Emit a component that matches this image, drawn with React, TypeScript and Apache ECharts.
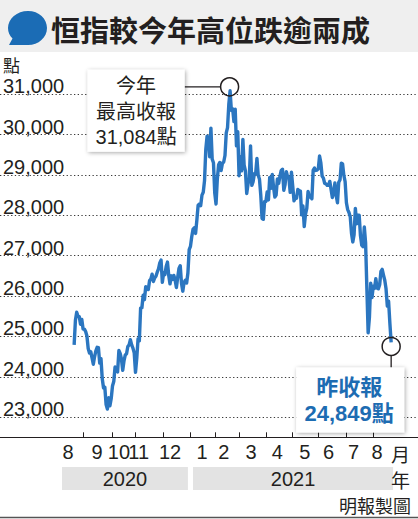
import React, { useEffect, useRef } from 'react';
import * as echarts from 'echarts';

// Hang Seng Index daily closes, 20 Aug 2020 – 20 Aug 2021 (trading-day order)
const aug2020 = [24790, 25400, 25600, 25500, 25490, 25300, 25420, 25180];
const sep2020 = [25180, 25120, 25010, 24700, 24590, 24620, 24470, 24310, 24500, 24640, 24730, 24720, 24340, 24450, 23950, 23720, 23740, 23310, 23200, 23480, 23280, 23460];
const oct2020 = [23770, 23880, 24240, 24190, 24120, 24650, 24580, 24440, 24160, 24390, 24540, 24570, 24750, 24790, 24920, 24790, 24710, 24590, 24110];
const nov2020 = [24460, 24940, 24890, 25700, 25710, 26020, 25910, 26230, 26170, 26160, 26380, 26420, 26540, 26360, 26450, 26490, 26590, 26670, 26820, 26890, 26340];
const dec2020 = [26570, 26530, 26730, 26840, 26510, 26300, 26500, 26410, 26510, 26390, 26210, 26460, 26680, 26750, 26310, 26120, 26340, 26390, 26320, 26570, 27150, 27230];
const jan2021 = [27470, 27650, 27690, 27550, 27880, 28250, 28280, 28240, 28500, 28570, 28860, 29640, 29960, 29930, 29450, 30160, 29390, 29300, 28550, 28280];
const feb2021 = [28890, 29250, 29310, 29110, 29290, 29320, 29480, 30040, 30170, 30750, 31084, 30600, 30640, 30320, 30630, 29720, 30070, 28980];
const mar2021 = [29450, 29100, 29880, 29240, 29100, 28540, 28770, 28910, 29720, 28740, 28830, 29030, 29030, 29410, 28990, 28890, 28500, 27920, 27900, 28340, 28340, 28580, 28380];
const apr2021 = [28940, 28670, 29010, 28700, 28450, 28500, 28900, 28790, 28970, 29110, 29140, 28620, 28760, 29080, 28950, 28940, 28570, 29070, 28720];
const may2021 = [28360, 28420, 28420, 28640, 28610, 28600, 28010, 28230, 27720, 28030, 28170, 28590, 28450, 28460, 28410, 29120, 29170, 29110, 29120, 29150];
const jun2021 = [29470, 29300, 28970, 28920, 28790, 28780, 28740, 28740, 28840, 28640, 28440, 28560, 28800, 28490, 28310, 28820, 28880, 29290, 29270, 28990, 28830];
const jul2021 = [28310, 28140, 28070, 27960, 27550, 27340, 27520, 28170, 27790, 28000, 28000, 27490, 27260, 27220, 27710, 27320, 26190, 25090, 25470, 26320, 25960];
const aug2021 = [26240, 26190, 26430, 26200, 26180, 26280, 26610, 26660, 26520, 26390, 26180, 25750, 25870, 25320, 24849];

const hsi = [
  ...aug2020, ...sep2020, ...oct2020, ...nov2020, ...dec2020, ...jan2021,
  ...feb2021, ...mar2021, ...apr2021, ...may2021, ...jun2021, ...jul2021, ...aug2021,
];

// x axis (trading-day index) month labels and month-boundary ticks
const monthLabels = ['8', '9', '10', '11', '12', '1', '2', '3', '4', '5', '6', '7', '8'];
const monthLabelPos = [-4.7, 18, 35, 50.5, 75, 100, 117, 138.5, 159, 180.5, 199, 218.5, 237];
const monthTickPos = [7.5, 30, 48, 69.5, 90.5, 110, 129, 150, 170.5, 191, 212.5, 234];
const yearLabels = ['2020', '2021'];
const yearSpans = [[-9.5, 89], [93, 249.5]];

const title = '恒指較今年高位跌逾兩成';
const unitLabel = '點';
const peakLines = ['今年', '最高收報', '31,084點'];
const lastLines = ['昨收報', '24,849點'];
const monthUnit = '月';
const yearUnit = '年';
const source = '明報製圖';

const NUM_FONT = "'Liberation Sans', Arial, 'Noto Sans CJK TC', sans-serif";
const CJK_FONT = "'Noto Sans CJK TC', 'Noto Sans CJK SC', sans-serif";
const INK = '#231f20';
const BLUE = '#2b76c0';
const DARK_BLUE = '#1d6cb2';

let shapeRegistered = false;
function registerBubble() {
  if (shapeRegistered) return;
  echarts.graphic.registerShape(
    'titleBubble',
    echarts.graphic.extendPath(
      'M20 0 C31 0 39 7.8 39 17 C39 26.6 30.5 34 20 34 L1 34 L4.5 27.5 C1.6 24.5 0 21 0 17 C0 7.8 9 0 20 0 Z',
      {}
    )
  );
  shapeRegistered = true;
}

export default function App() {
  const ref = useRef<HTMLDivElement>(null);

  useEffect(() => {
    if (!ref.current) return;
    registerBubble();
    const chart = echarts.init(ref.current, null, { renderer: 'svg' });

    const fmt = (v: number) => Number(v).toLocaleString('en-US');

    chart.setOption({
      animation: false,
      backgroundColor: '#ffffff',
      grid: { left: 0, right: 0, top: 74, height: 363.3, containLabel: false },
      xAxis: {
        type: 'value',
        min: -58,
        max: 269,
        axisLine: { show: true, lineStyle: { color: INK, width: 1.2 } },
        axisTick: {
          show: true,
          inside: true,
          length: 5,
          customValues: monthTickPos,
          lineStyle: { color: INK, width: 1 },
        },
        axisLabel: {
          customValues: monthLabelPos,
          formatter: (v: number) => {
            const i = monthLabelPos.indexOf(v);
            return i >= 0 ? monthLabels[i] : '';
          },
          margin: 5,
          fontSize: 20,
          color: INK,
          fontFamily: NUM_FONT,
        },
        splitLine: { show: false },
      },
      yAxis: {
        type: 'value',
        min: 22500,
        max: 31500,
        splitNumber: 9,
        axisLine: { show: false },
        axisTick: { show: false },
        axisLabel: {
          inside: true,
          showMinLabel: false,
          showMaxLabel: false,
          formatter: fmt,
          verticalAlign: 'bottom',
          lineHeight: 16,
          margin: 3,
          fontSize: 20,
          color: INK,
          fontFamily: NUM_FONT,
        },
        splitLine: {
          show: true,
          showMinLine: false,
          showMaxLine: false,
          lineStyle: { type: [1.3, 2.4], color: '#3a3a3a', width: 1 },
        },
      },
      series: [
        {
          type: 'line',
          data: hsi.map((v, i) => [i, v]),
          showSymbol: false,
          symbol: 'none',
          lineStyle: { color: BLUE, width: 3.4, join: 'round' },
          z: 3,
        },
      ],
    });

    let peakIdx = 0;
    hsi.forEach((v, i) => { if (v > hsi[peakIdx]) peakIdx = i; });
    const lastIdx = hsi.length - 1;
    const pk = chart.convertToPixel({ gridIndex: 0 }, [peakIdx, hsi[peakIdx]]) as number[];
    const ls = chart.convertToPixel({ gridIndex: 0 }, [lastIdx, hsi[lastIdx]]) as number[];
    const yr = yearSpans.map(([a, b]) => [
      (chart.convertToPixel({ gridIndex: 0 }, [a, 25000]) as number[])[0],
      (chart.convertToPixel({ gridIndex: 0 }, [b, 25000]) as number[])[0],
    ]);

    const R = 9;
    const pcx = pk[0] - 0.5;
    const pcy = pk[1] - 4;
    const topBox = { x: pcx - 142, y: pcy - 17, w: 97, h: 82 };
    const lcx = ls[0];
    const lcy = ls[1] + 4;
    const botBox = { x: lcx - 95, y: lcy + 21, w: 108, h: 65 };

    const shadow = {
      shadowBlur: 4,
      shadowColor: 'rgba(0,0,0,0.35)',
      shadowOffsetX: 1,
      shadowOffsetY: 1,
    };

    const elements: any[] = [
      { type: 'rect', z: 100, shape: { x: 0, y: 0, width: 418, height: 52 }, style: { fill: '#efefef' } },
      { type: 'titleBubble', z: 101, x: 8, y: 11, style: { fill: '#1b6cb5' } },
      {
        type: 'text', z: 101, x: 51, y: 29,
        style: { text: title, fill: INK, fontSize: 29, fontWeight: 'bold', fontFamily: CJK_FONT, align: 'left', verticalAlign: 'middle' },
      },
      {
        type: 'text', z: 101, x: 3, y: 64,
        style: { text: unitLabel, fill: INK, fontSize: 17, fontFamily: CJK_FONT, align: 'left', verticalAlign: 'middle' },
      },
      // peak annotation
      { type: 'line', z: 100, shape: { x1: topBox.x + topBox.w, y1: pcy, x2: pcx - R, y2: pcy }, style: { stroke: INK, lineWidth: 1.3 } },
      { type: 'circle', z: 102, shape: { cx: pcx, cy: pcy, r: R }, style: { fill: 'none', stroke: INK, lineWidth: 1.5 } },
      { type: 'rect', z: 100, shape: { x: topBox.x, y: topBox.y, width: topBox.w, height: topBox.h }, style: { fill: '#ffffff', ...shadow } },
      {
        type: 'text', z: 101, x: topBox.x + topBox.w / 2, y: topBox.y + topBox.h / 2 + 1,
        style: {
          text: peakLines.join('\n'), fill: INK, fontSize: 20, lineHeight: 25.5,
          fontFamily: NUM_FONT, align: 'center', verticalAlign: 'middle',
        },
      },
      // last close annotation
      { type: 'line', z: 100, shape: { x1: lcx, y1: lcy + R, x2: lcx, y2: botBox.y }, style: { stroke: INK, lineWidth: 1.3 } },
      { type: 'circle', z: 102, shape: { cx: lcx, cy: lcy, r: R }, style: { fill: 'none', stroke: INK, lineWidth: 1.5 } },
      { type: 'rect', z: 100, shape: { x: botBox.x, y: botBox.y, width: botBox.w, height: botBox.h }, style: { fill: '#ffffff', ...shadow } },
      {
        type: 'text', z: 101, x: botBox.x + botBox.w / 2 - 1, y: botBox.y + botBox.h / 2 + 1,
        style: {
          text: lastLines.join('\n'), fill: DARK_BLUE, fontSize: 22, lineHeight: 26, fontWeight: 'bold',
          fontFamily: NUM_FONT, align: 'center', verticalAlign: 'middle',
        },
      },
      // year bars
      ...yr.map(([a, b]) => ({
        type: 'rect', z: 100, shape: { x: a, y: 467, width: b - a, height: 23 }, style: { fill: '#e3e3e3' },
      })),
      ...yr.map(([a, b], i) => ({
        type: 'text', z: 101, x: (a + b) / 2, y: 479,
        style: { text: yearLabels[i], fill: INK, fontSize: 20, fontFamily: NUM_FONT, align: 'center', verticalAlign: 'middle' },
      })),
      {
        type: 'text', z: 101, x: 410, y: 453,
        style: { text: monthUnit, fill: INK, fontSize: 19, fontFamily: CJK_FONT, align: 'right', verticalAlign: 'middle' },
      },
      {
        type: 'text', z: 101, x: 410, y: 479,
        style: { text: yearUnit, fill: INK, fontSize: 19, fontFamily: CJK_FONT, align: 'right', verticalAlign: 'middle' },
      },
      {
        type: 'text', z: 101, x: 411, y: 505,
        style: { text: source, fill: INK, fontSize: 18, fontFamily: CJK_FONT, align: 'right', verticalAlign: 'middle' },
      },
      { type: 'line', z: 100, shape: { x1: 0, y1: 517.5, x2: 418, y2: 517.5 }, style: { stroke: '#555555', lineWidth: 1.5 } },
    ];

    chart.setOption({ graphic: { elements } });

    return () => chart.dispose();
  }, []);

  return (
    <div
      ref={ref}
      style={{ position: 'fixed', left: 0, top: 0, width: 418, height: 519 }}
    />
  );
}
